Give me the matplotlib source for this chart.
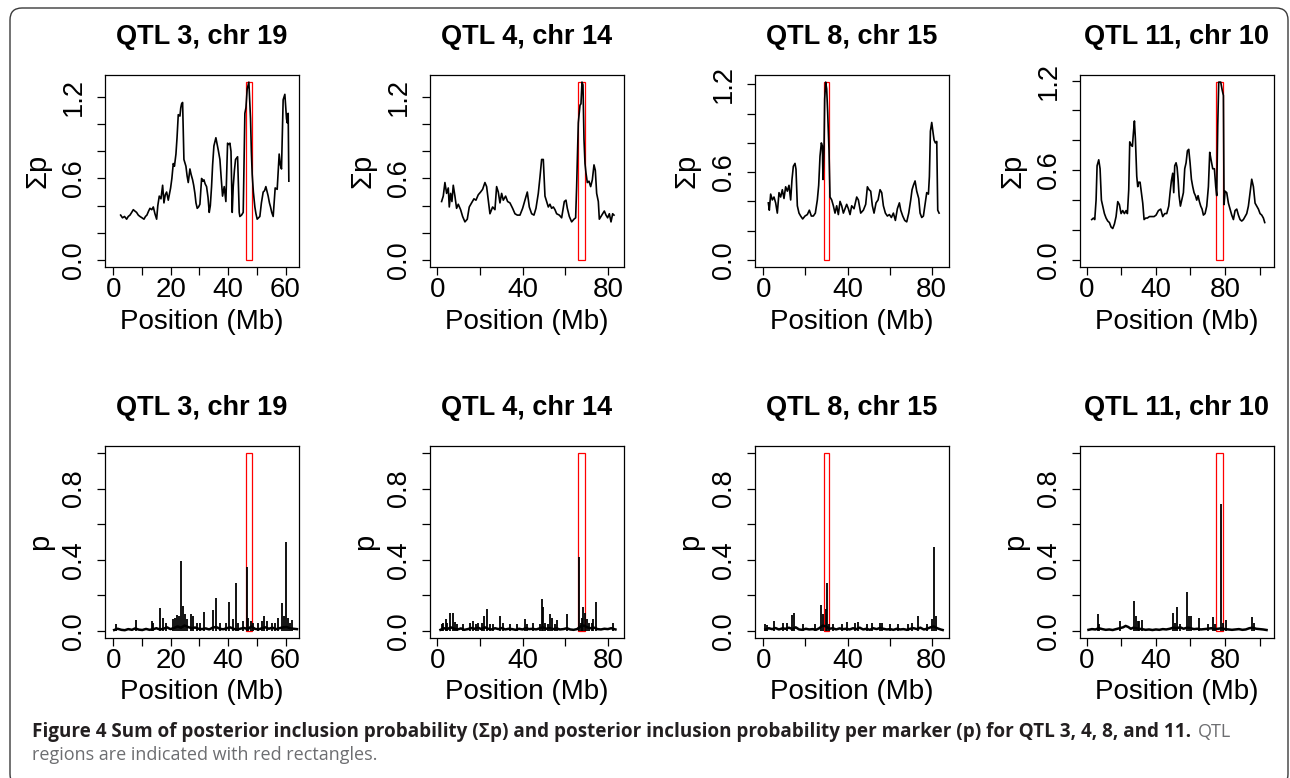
import matplotlib
matplotlib.use('Agg')  # pas d'affichage
import matplotlib.pyplot as plt
from matplotlib.patches import Rectangle, FancyBboxPatch
from matplotlib.transforms import IdentityTransform

# Titres des panneaux
titres = ['QTL 3, chr 19', 'QTL 4, chr 14', 'QTL 8, chr 15', 'QTL 11, chr 10']

# Regions QTL (Mb)
regions_qtl = [(46.2, 48.4), (65.8, 69.2), (28.8, 31.1), (74.8, 78.6)]

# Limites et graduations en x
xlims = [(-2.9, 64.7), (-3.4, 87.5), (-3.95, 88.2), (-3.9, 108.3)]
xticks = [[0, 10, 20, 30, 40, 50, 60], [0, 20, 40, 60, 80], [0, 20, 40, 60, 80], [0, 20, 40, 60, 80, 100]]
xticklabels = [['0', '', '20', '', '40', '', '60'], ['0', '', '40', '', '80'],
               ['0', '', '40', '', '80'], ['0', '', '40', '', '80', '']]

yticks_haut = [0.0, 0.2, 0.4, 0.6, 0.8, 1.0, 1.2]
ylabels_haut = ['0.0', '', '', '0.6', '', '', '1.2']
yticks_bas = [0.0, 0.2, 0.4, 0.6, 0.8, 1.0]
ylabels_bas = ['0.0', '', '0.4', '', '0.8', '']

# Somme des probabilites (Sigma p) : (position Mb, valeur)
somme_chr19 = [(2.55, 0.33), (3.2, 0.31), (3.9, 0.32), (4.64, 0.30), (5.2, 0.32), (5.8, 0.33), (6.4, 0.35),
               (6.96, 0.37), (7.5, 0.36), (8.1, 0.35), (8.7, 0.33), (9.28, 0.32), (10.0, 0.31),
               (10.68, 0.30), (11.2, 0.32), (11.7, 0.33), (12.3, 0.36), (12.77, 0.38), (13.4, 0.37),
               (13.93, 0.39), (14.5, 0.34), (15.09, 0.30), (15.5, 0.40), (16.01, 0.47), (16.6, 0.45),
               (17.18, 0.55), (17.64, 0.42), (18.1, 0.48), (18.57, 0.50), (19.15, 0.44), (19.96, 0.53),
               (20.4, 0.60), (20.89, 0.71), (21.3, 0.69), (21.82, 0.78), (22.2, 0.90), (22.63, 1.07),
               (23.21, 1.06), (23.5, 1.12), (23.79, 1.15), (24.14, 1.16), (24.60, 0.74), (25.30, 0.69),
               (25.7, 0.62), (26.11, 0.57), (26.69, 0.67), (27.1, 0.63), (27.62, 0.59), (28.0, 0.55),
               (28.43, 0.49), (28.8, 0.42), (29.24, 0.38), (29.7, 0.39), (30.17, 0.41), (30.76, 0.60),
               (31.2, 0.58), (31.57, 0.59), (32.0, 0.56), (32.49, 0.54), (33.0, 0.46), (33.42, 0.35),
               (33.8, 0.40), (34.23, 0.54), (34.6, 0.70), (35.05, 0.84), (35.74, 0.90), (36.1, 0.86),
               (36.56, 0.81), (37.14, 0.74), (37.6, 0.60), (38.06, 0.47), (38.64, 0.54), (39.22, 0.43),
               (39.81, 0.86), (40.2, 0.85), (40.62, 0.86), (41.0, 0.80), (41.43, 0.35), (41.78, 0.54),
               (42.2, 0.66), (42.59, 0.74), (43.30, 0.76), (43.87, 0.35), (44.10, 0.32), (44.68, 0.33),
               (45.26, 0.35), (45.84, 1.08), (46.2, 1.12), (46.65, 1.26), (47.23, 1.31), (47.81, 1.04),
               (48.1, 0.80), (48.39, 0.63), (48.8, 0.50), (49.32, 0.39), (49.7, 0.34), (50.13, 0.30),
               (50.6, 0.31), (51.06, 0.32), (51.6, 0.42), (52.22, 0.50), (52.7, 0.51), (53.15, 0.54),
               (53.96, 0.47), (54.4, 0.42), (54.78, 0.39), (55.2, 0.35), (55.70, 0.32), (56.1, 0.44),
               (56.40, 0.53), (57.10, 0.52), (57.79, 0.78), (58.2, 0.70), (58.60, 0.67), (59.18, 1.18),
               (59.77, 1.22), (60.35, 1.04), (60.6, 1.01), (60.93, 1.08), (61.16, 0.58)]

somme_chr14 = [(2.03, 0.43), (2.81, 0.47), (3.59, 0.57), (4.38, 0.49), (5.16, 0.53), (5.63, 0.39), (6.25, 0.49),
               (6.88, 0.43), (7.5, 0.55), (8.28, 0.47), (9.06, 0.38), (9.84, 0.41), (10.94, 0.37), (11.88, 0.32),
               (12.97, 0.28), (14.06, 0.30), (15.0, 0.39), (16.09, 0.42), (17.19, 0.45), (18.13, 0.44),
               (19.22, 0.48), (20.31, 0.50), (21.25, 0.52), (22.34, 0.57), (23.13, 0.54), (23.91, 0.44),
               (24.69, 0.34), (25.94, 0.39), (27.03, 0.37), (27.81, 0.54), (28.59, 0.50), (29.38, 0.42),
               (30.16, 0.49), (30.94, 0.44), (32.03, 0.47), (32.97, 0.43), (34.06, 0.42), (35.31, 0.38),
               (36.41, 0.34), (37.5, 0.33), (38.75, 0.33), (40.0, 0.38), (41.09, 0.44), (42.19, 0.50),
               (43.13, 0.39), (44.22, 0.34), (45.31, 0.33), (46.25, 0.38), (47.34, 0.49), (48.13, 0.61),
               (48.91, 0.74), (49.69, 0.74), (50.47, 0.47), (51.25, 0.43), (52.03, 0.39), (52.81, 0.41),
               (53.59, 0.38), (54.38, 0.39), (55.16, 0.37), (55.94, 0.34), (57.19, 0.33), (58.28, 0.31),
               (59.53, 0.43), (60.31, 0.44), (60.94, 0.38), (61.88, 0.32), (62.97, 0.28), (64.06, 0.30),
               (64.84, 0.31), (65.31, 0.54), (66.09, 1.01), (66.88, 1.14), (67.34, 1.15), (67.81, 1.31),
               (68.28, 1.29), (68.75, 0.89), (69.22, 0.71), (69.69, 0.64), (70.31, 0.57), (71.09, 0.58),
               (71.88, 0.54), (72.66, 0.59), (73.44, 0.70), (74.06, 0.66), (74.69, 0.49), (75.47, 0.43),
               (75.94, 0.30), (76.72, 0.32), (77.5, 0.34), (78.28, 0.36), (79.06, 0.33), (79.84, 0.31),
               (80.63, 0.34), (81.41, 0.28), (82.19, 0.34), (82.81, 0.33)]

somme_chr15 = [(2.38, 0.39), (2.85, 0.34), (3.49, 0.45), (4.28, 0.41), (5.07, 0.43), (5.86, 0.39), (6.65, 0.32),
               (7.45, 0.46), (8.24, 0.43), (9.03, 0.48), (9.82, 0.42), (10.61, 0.50), (11.41, 0.47), (12.2, 0.51),
               (12.99, 0.41), (13.62, 0.55), (14.26, 0.64), (15.05, 0.66), (15.52, 0.62), (16.16, 0.37),
               (16.95, 0.32), (17.74, 0.30), (18.69, 0.28), (19.8, 0.30), (20.91, 0.31), (21.86, 0.34),
               (22.81, 0.30), (23.76, 0.30), (24.71, 0.32), (25.66, 0.41), (26.3, 0.51), (26.93, 0.71),
               (27.56, 0.80), (28.04, 0.78), (28.36, 0.55), (28.83, 0.75), (29.15, 1.10), (29.62, 1.216),
               (30.10, 1.17), (30.57, 1.01), (31.2, 0.75), (31.68, 0.43), (32.48, 0.41), (33.27, 0.37),
               (34.06, 0.32), (34.85, 0.37), (35.64, 0.31), (36.44, 0.40), (37.23, 0.37), (38.02, 0.32),
               (38.81, 0.35), (39.6, 0.38), (40.4, 0.35), (41.19, 0.31), (41.98, 0.37), (43.09, 0.35),
               (44.36, 0.43), (45.15, 0.41), (46.26, 0.32), (47.52, 0.34), (48.63, 0.38), (49.43, 0.50),
               (50.22, 0.48), (51.01, 0.47), (51.8, 0.37), (52.59, 0.32), (53.54, 0.39), (54.5, 0.41),
               (55.45, 0.48), (56.24, 0.46), (57.03, 0.37), (57.98, 0.32), (58.93, 0.30), (59.88, 0.31),
               (60.83, 0.29), (61.78, 0.32), (62.73, 0.27), (63.68, 0.35), (64.63, 0.39), (65.27, 0.34),
               (66.22, 0.30), (67.17, 0.27), (68.12, 0.26), (69.07, 0.32), (70.02, 0.41), (70.65, 0.48),
               (71.29, 0.51), (72.08, 0.54), (72.87, 0.47), (73.82, 0.42), (74.46, 0.32), (75.25, 0.29),
               (76.04, 0.30), (76.83, 0.38), (77.62, 0.46), (78.42, 0.45), (78.89, 0.57), (79.37, 0.88),
               (80.0, 0.94), (80.63, 0.87), (81.11, 0.82), (81.74, 0.80), (82.38, 0.81), (82.85, 0.34),
               (83.49, 0.32)]

somme_chr10 = [(2.89, 0.27), (3.86, 0.28), (4.63, 0.27), (5.40, 0.40), (5.98, 0.63), (6.94, 0.67), (7.71, 0.61),
               (8.48, 0.40), (9.25, 0.36), (10.22, 0.31), (11.18, 0.28), (12.14, 0.26), (13.11, 0.25),
               (14.07, 0.22), (15.04, 0.21), (16.0, 0.24), (16.96, 0.29), (17.93, 0.39), (18.89, 0.37),
               (19.86, 0.31), (20.82, 0.33), (21.78, 0.31), (22.75, 0.33), (23.52, 0.31), (24.29, 0.47),
               (24.87, 0.79), (25.64, 0.77), (26.41, 0.76), (26.99, 0.85), (27.57, 0.93), (28.14, 0.81),
               (28.92, 0.56), (29.49, 0.49), (30.07, 0.52), (30.84, 0.52), (31.61, 0.45), (32.39, 0.38),
               (33.16, 0.27), (34.12, 0.28), (35.08, 0.28), (36.24, 0.29), (37.59, 0.29), (38.94, 0.29),
               (40.10, 0.30), (41.45, 0.33), (42.80, 0.34), (43.95, 0.29), (45.11, 0.31), (46.27, 0.31),
               (47.42, 0.36), (48.19, 0.45), (48.96, 0.53), (49.73, 0.58), (50.31, 0.45), (50.89, 0.63),
               (51.66, 0.65), (52.24, 0.62), (52.82, 0.54), (53.40, 0.43), (54.17, 0.36), (54.94, 0.40),
               (55.90, 0.45), (56.67, 0.61), (57.45, 0.65), (58.22, 0.73), (58.99, 0.74), (59.76, 0.65),
               (60.53, 0.54), (61.30, 0.49), (62.07, 0.45), (62.84, 0.43), (63.61, 0.40), (64.39, 0.43),
               (65.16, 0.39), (65.93, 0.36), (66.70, 0.34), (67.47, 0.30), (68.43, 0.31), (69.40, 0.36),
               (70.36, 0.49), (71.13, 0.72), (71.90, 0.67), (72.87, 0.61), (73.83, 0.61), (74.60, 0.49),
               (75.18, 0.43), (75.76, 0.90), (76.34, 1.19), (77.49, 1.19), (78.27, 1.14), (79.04, 1.10),
               (79.42, 0.37), (80.0, 0.46), (80.96, 0.45), (81.93, 0.38), (82.89, 0.34), (83.86, 0.30),
               (84.82, 0.27), (85.78, 0.33), (86.75, 0.34), (87.71, 0.30), (88.67, 0.27), (89.64, 0.26),
               (90.60, 0.27), (91.57, 0.29), (92.53, 0.31), (93.49, 0.36), (94.46, 0.45), (95.42, 0.54),
               (96.39, 0.49), (97.35, 0.38), (98.31, 0.36), (99.28, 0.34), (100.24, 0.31), (101.20, 0.30),
               (102.17, 0.28), (102.94, 0.25)]

# Probabilite par marqueur (p) : pics (position, hauteur)
pics_chr19 = [(0.93, 0.038), (7.79, 0.062), (13.37, 0.056), (13.95, 0.047), (16.28, 0.131), (17.44, 0.075),
              (18.37, 0.047), (20.93, 0.066), (21.51, 0.075), (22.33, 0.088), (22.91, 0.085), (23.49, 0.395),
              (24.42, 0.141), (25.12, 0.094), (25.81, 0.066), (26.98, 0.094), (27.67, 0.085), (29.07, 0.047),
              (30.23, 0.047), (31.74, 0.109), (34.88, 0.118), (35.70, 0.184), (37.21, 0.047), (39.30, 0.047),
              (40.23, 0.16), (41.86, 0.066), (42.79, 0.267), (43.60, 0.047), (45.35, 0.056), (46.63, 0.36),
              (47.09, 0.07), (47.91, 0.056), (48.84, 0.047), (50.58, 0.047), (51.74, 0.056), (52.56, 0.085),
              (53.49, 0.056), (55.23, 0.047), (56.40, 0.047), (57.33, 0.075), (58.72, 0.156), (59.30, 0.085),
              (60.12, 0.50), (60.70, 0.075), (61.63, 0.047), (62.21, 0.062)]

pics_chr14 = [(2.03, 0.038), (2.81, 0.047), (4.06, 0.069), (4.69, 0.043), (5.94, 0.103), (7.19, 0.10),
              (8.28, 0.051), (9.06, 0.038), (12.19, 0.038), (15.31, 0.047), (16.88, 0.056), (17.97, 0.038),
              (19.22, 0.047), (20.78, 0.043), (22.03, 0.085), (23.13, 0.122), (24.69, 0.038), (26.25, 0.038),
              (29.38, 0.085), (30.94, 0.047), (34.06, 0.038), (37.19, 0.038), (41.09, 0.069), (42.19, 0.038),
              (45.0, 0.043), (48.13, 0.041), (48.91, 0.178), (49.69, 0.137), (50.47, 0.047), (52.03, 0.038),
              (52.81, 0.094), (53.59, 0.075), (55.16, 0.038), (55.94, 0.062), (60.94, 0.094), (66.41, 0.417),
              (67.19, 0.047), (67.97, 0.075), (68.44, 0.137), (69.22, 0.103), (70.0, 0.066), (71.25, 0.047),
              (72.34, 0.047), (73.13, 0.066), (74.22, 0.163), (82.5, 0.047)]

pics_chr15 = [(0.79, 0.041), (1.90, 0.032), (5.07, 0.053), (9.5, 0.043), (11.09, 0.047), (13.78, 0.088),
              (14.57, 0.10), (19.01, 0.038), (24.55, 0.038), (27.25, 0.145), (28.2, 0.094), (29.62, 0.122),
              (30.26, 0.272), (31.21, 0.038), (33.27, 0.038), (37.23, 0.038), (39.6, 0.051), (43.56, 0.047),
              (45.15, 0.051), (49.1, 0.038), (51.49, 0.047), (55.45, 0.047), (56.24, 0.043), (60.2, 0.038),
              (64.16, 0.038), (68.91, 0.038), (70.5, 0.043), (73.66, 0.085), (77.62, 0.038), (80.0, 0.066),
              (81.27, 0.473), (82.06, 0.081)]

pics_chr10 = [(6.36, 0.094), (7.33, 0.038), (19.28, 0.056), (27.37, 0.169), (28.34, 0.085), (29.49, 0.053),
              (30.46, 0.056), (31.81, 0.062), (49.93, 0.10), (51.08, 0.047), (52.24, 0.137), (53.98, 0.038),
              (58.02, 0.22), (58.99, 0.085), (60.14, 0.085), (64.77, 0.075), (70.36, 0.038), (72.87, 0.079),
              (74.22, 0.038), (77.49, 0.714), (78.65, 0.047), (80.58, 0.062), (95.61, 0.079), (96.77, 0.047)]

# Bruit de fond des p (position, valeur)
fond_chr19 = [(0.3, 0.005), (1.5, 0.012), (2.8, 0.006), (4.0, 0.004), (5.2, 0.010), (6.5, 0.006), (7.6, 0.014),
              (8.9, 0.007), (10.1, 0.005), (11.4, 0.011), (12.6, 0.006), (13.8, 0.009), (15.0, 0.015), (16.2, 0.008),
              (17.5, 0.012), (18.7, 0.020), (19.9, 0.010), (21.1, 0.016), (22.4, 0.025), (23.6, 0.018), (24.8, 0.030),
              (26.0, 0.022), (27.3, 0.015), (28.5, 0.019), (29.7, 0.012), (30.9, 0.010), (32.2, 0.014), (33.4, 0.008),
              (34.6, 0.018), (35.8, 0.022), (37.1, 0.012), (38.3, 0.009), (39.5, 0.015), (40.7, 0.020), (42.0, 0.011),
              (43.2, 0.008), (44.4, 0.013), (45.6, 0.016), (46.9, 0.010), (48.1, 0.025), (49.3, 0.012), (50.5, 0.008),
              (51.8, 0.015), (53.0, 0.020), (54.2, 0.012), (55.4, 0.018), (56.7, 0.010), (57.9, 0.015), (59.1, 0.020),
              (60.3, 0.022), (61.6, 0.015), (62.8, 0.012), (64.0, 0.010)]

fond_chr14 = [(1.5, 0.006), (3.1, 0.015), (4.7, 0.010), (6.3, 0.020), (7.9, 0.012), (9.5, 0.008), (11.1, 0.014),
              (12.7, 0.006), (14.3, 0.010), (15.9, 0.016), (17.5, 0.012), (19.1, 0.018), (20.7, 0.010), (22.3, 0.020),
              (23.9, 0.012), (25.5, 0.008), (27.1, 0.015), (28.7, 0.010), (30.3, 0.016), (31.9, 0.008), (33.5, 0.012),
              (35.1, 0.010), (36.7, 0.006), (38.3, 0.012), (39.9, 0.008), (41.5, 0.015), (43.1, 0.010), (44.7, 0.012),
              (46.3, 0.008), (47.9, 0.014), (49.5, 0.020), (51.1, 0.012), (52.7, 0.016), (54.3, 0.010), (55.9, 0.014),
              (57.5, 0.008), (59.1, 0.010), (60.7, 0.015), (62.3, 0.008), (63.9, 0.006), (65.5, 0.010), (67.1, 0.025),
              (68.7, 0.030), (70.3, 0.020), (71.9, 0.015), (73.5, 0.018), (75.1, 0.010), (76.7, 0.008), (78.3, 0.012),
              (79.9, 0.010), (81.5, 0.015), (83.5, 0.008)]

fond_chr15 = [(1.0, 0.008), (2.6, 0.015), (4.2, 0.010), (5.8, 0.016), (7.4, 0.008), (9.0, 0.014), (10.6, 0.012),
              (12.2, 0.018), (13.8, 0.010), (15.4, 0.020), (17.0, 0.008), (18.6, 0.006), (20.2, 0.012), (21.8, 0.008),
              (23.4, 0.010), (25.0, 0.006), (26.6, 0.015), (28.2, 0.030), (29.8, 0.025), (31.4, 0.012), (33.0, 0.015),
              (34.6, 0.008), (36.2, 0.014), (37.8, 0.010), (39.4, 0.012), (41.0, 0.008), (42.6, 0.015), (44.2, 0.010),
              (45.8, 0.018), (47.4, 0.008), (49.0, 0.012), (50.6, 0.006), (52.2, 0.015), (53.8, 0.010), (55.4, 0.016),
              (57.0, 0.012), (58.6, 0.008), (60.2, 0.010), (61.8, 0.006), (63.4, 0.012), (65.0, 0.008), (66.6, 0.010),
              (68.2, 0.006), (69.8, 0.012), (71.4, 0.015), (73.0, 0.010), (74.6, 0.018), (76.2, 0.008), (77.8, 0.012),
              (79.4, 0.020), (81.0, 0.025), (82.6, 0.015), (84.2, 0.008), (85.2, 0.005)]

fond_chr10 = [(1.0, 0.006), (3.0, 0.010), (5.0, 0.008), (7.0, 0.015), (9.0, 0.010), (11.0, 0.006), (13.0, 0.008),
              (15.0, 0.005), (17.0, 0.010), (19.0, 0.015), (21.0, 0.020), (22.5, 0.028), (24.0, 0.022), (25.5, 0.012),
              (27.0, 0.018), (28.5, 0.015), (30.0, 0.012), (32.0, 0.010), (34.0, 0.006), (36.0, 0.008), (38.0, 0.005),
              (40.0, 0.008), (42.0, 0.006), (44.0, 0.010), (46.0, 0.008), (48.0, 0.012), (50.0, 0.018), (52.0, 0.015),
              (54.0, 0.020), (56.0, 0.012), (58.0, 0.018), (60.0, 0.015), (62.0, 0.010), (64.0, 0.012), (66.0, 0.008),
              (68.0, 0.010), (70.0, 0.012), (72.0, 0.015), (74.0, 0.010), (76.0, 0.012), (78.0, 0.015), (80.0, 0.010),
              (82.0, 0.008), (84.0, 0.006), (86.0, 0.008), (88.0, 0.010), (90.0, 0.006), (92.0, 0.008), (94.0, 0.015),
              (96.0, 0.018), (98.0, 0.012), (100.0, 0.010), (102.0, 0.008), (104.0, 0.005)]

sommes = [somme_chr19, somme_chr14, somme_chr15, somme_chr10]
pics = [pics_chr19, pics_chr14, pics_chr15, pics_chr10]
fonds = [fond_chr19, fond_chr14, fond_chr15, fond_chr10]

legende_gras = ('Figure 4 Sum of posterior inclusion probability (\u03a3p) and posterior inclusion '
                'probability per marker (p) for QTL 3, 4, 8, and 11.')
legende_suite = 'QTL'
legende_ligne2 = 'regions are indicated with red rectangles.'

# ---------------------------------------------------------------
W, H = 1290, 778
plt.rcParams['font.family'] = ['Liberation Sans', 'DejaVu Sans']

fig = plt.figure(figsize=(W / 100, H / 100), dpi=100)
fig.patch.set_facecolor('white')

gauches = [105, 430, 755, 1080]
haut_axes = [75, 446]
larg, haut = 194, 192


def rect_axes(gauche, sommet):
    return [gauche / W, 1 - (sommet + haut) / H, larg / W, haut / H]


def style_axes(ax):
    for s in ax.spines.values():
        s.set_linewidth(0.9)
        s.set_color('black')
    ax.tick_params(axis='both', direction='out', length=6, width=0.9, top=False, right=False)
    ax.tick_params(axis='x', labelsize=20, pad=1.5)
    ax.tick_params(axis='y', labelsize=19.5, pad=7, labelrotation=90)
    for lab in ax.get_yticklabels():
        lab.set_va('center')


for i in range(4):
    # Rangee du haut : somme des p
    ax = fig.add_axes(rect_axes(gauches[i], haut_axes[0]))
    xs = [v[0] for v in sommes[i]]
    ys = [v[1] for v in sommes[i]]
    ax.plot(xs, ys, color='black', lw=1.2)
    ymax = max(ys)
    ax.set_xlim(xlims[i])
    ax.set_ylim(-0.04 * ymax, 1.04 * ymax)
    a, b = regions_qtl[i]
    ax.add_patch(Rectangle((a, 0), b - a, ymax, fill=False, edgecolor='#ff0000', lw=0.9))
    ax.set_xticks(xticks[i])
    ax.set_xticklabels(xticklabels[i])
    ax.set_yticks(yticks_haut)
    ax.set_yticklabels(ylabels_haut)
    style_axes(ax)
    ax.set_xlabel('Position (Mb)', fontsize=20)
    ax.xaxis.label.set_va('center')
    ax.xaxis.set_label_coords(0.5, -(322 - 267) / haut)
    ax.set_ylabel('\u03a3p', fontsize=21)
    ax.yaxis.label.set_va('baseline')
    ax.yaxis.set_label_coords(-(105 - 45) / larg, 0.5)
    fig.text((gauches[i] + larg / 2) / W, 1 - 37 / H, titres[i], ha='center', va='center',
             fontsize=19.5, fontweight='bold')

    # Rangee du bas : p par marqueur
    ax = fig.add_axes(rect_axes(gauches[i], haut_axes[1]))
    bx = [v[0] for v in fonds[i]]
    by = [v[1] for v in fonds[i]]
    ax.plot(bx, by, color='black', lw=1.8)
    px = [v[0] for v in pics[i]]
    ph = [v[1] for v in pics[i]]
    ax.vlines(px, 0, ph, color='black', lw=1.3)
    ax.set_xlim(xlims[i])
    ax.set_ylim(-0.04, 1.04)
    ax.add_patch(Rectangle((a, 0), b - a, 1.0, fill=False, edgecolor='#ff0000', lw=0.9))
    ax.set_xticks(xticks[i])
    ax.set_xticklabels(xticklabels[i])
    ax.set_yticks(yticks_bas)
    ax.set_yticklabels(ylabels_bas)
    style_axes(ax)
    ax.set_xlabel('Position (Mb)', fontsize=20)
    ax.xaxis.label.set_va('center')
    ax.xaxis.set_label_coords(0.5, -(692 - 638) / haut)
    ax.set_ylabel('p', fontsize=21)
    ax.yaxis.label.set_va('baseline')
    ax.yaxis.set_label_coords(-(105 - 48) / larg, 0.5)
    fig.text((gauches[i] + larg / 2) / W, 1 - 408 / H, titres[i], ha='center', va='center',
             fontsize=19.5, fontweight='bold')

# Cadre arrondi autour de la figure
cadre = FancyBboxPatch((10, -8), 1278, H - 8 + 8, boxstyle='round,pad=0,rounding_size=12',
                       transform=IdentityTransform(), fill=False, edgecolor='#3a3a3a', lw=1.0)
fig.add_artist(cadre)

# Legende
police_leg = ['Open Sans', 'DejaVu Sans']
t1 = fig.text(32 / W, 1 - 737 / H, legende_gras, fontsize=11, fontweight='bold', color='#231f20',
              ha='left', va='baseline', family=police_leg)
t3 = fig.text(32 / W, 1 - 760 / H, legende_ligne2, fontsize=11, color='#6d6e71',
              ha='left', va='baseline', family=police_leg)
fig.canvas.draw()
rend = fig.canvas.get_renderer()
w1 = t1.get_window_extent(rend).width
t1.set_fontsize(11 * (1190 - 32) / w1)
w3 = t3.get_window_extent(rend).width
t3.set_fontsize(11 * (380 - 32) / w3)
fig.canvas.draw()
fin = t1.get_window_extent(rend).x1
fig.text((fin + 7) / W, 1 - 737 / H, legende_suite, fontsize=t3.get_fontsize(), color='#6d6e71',
         ha='left', va='baseline', family=police_leg)

fig.savefig('out.png', dpi=100)
